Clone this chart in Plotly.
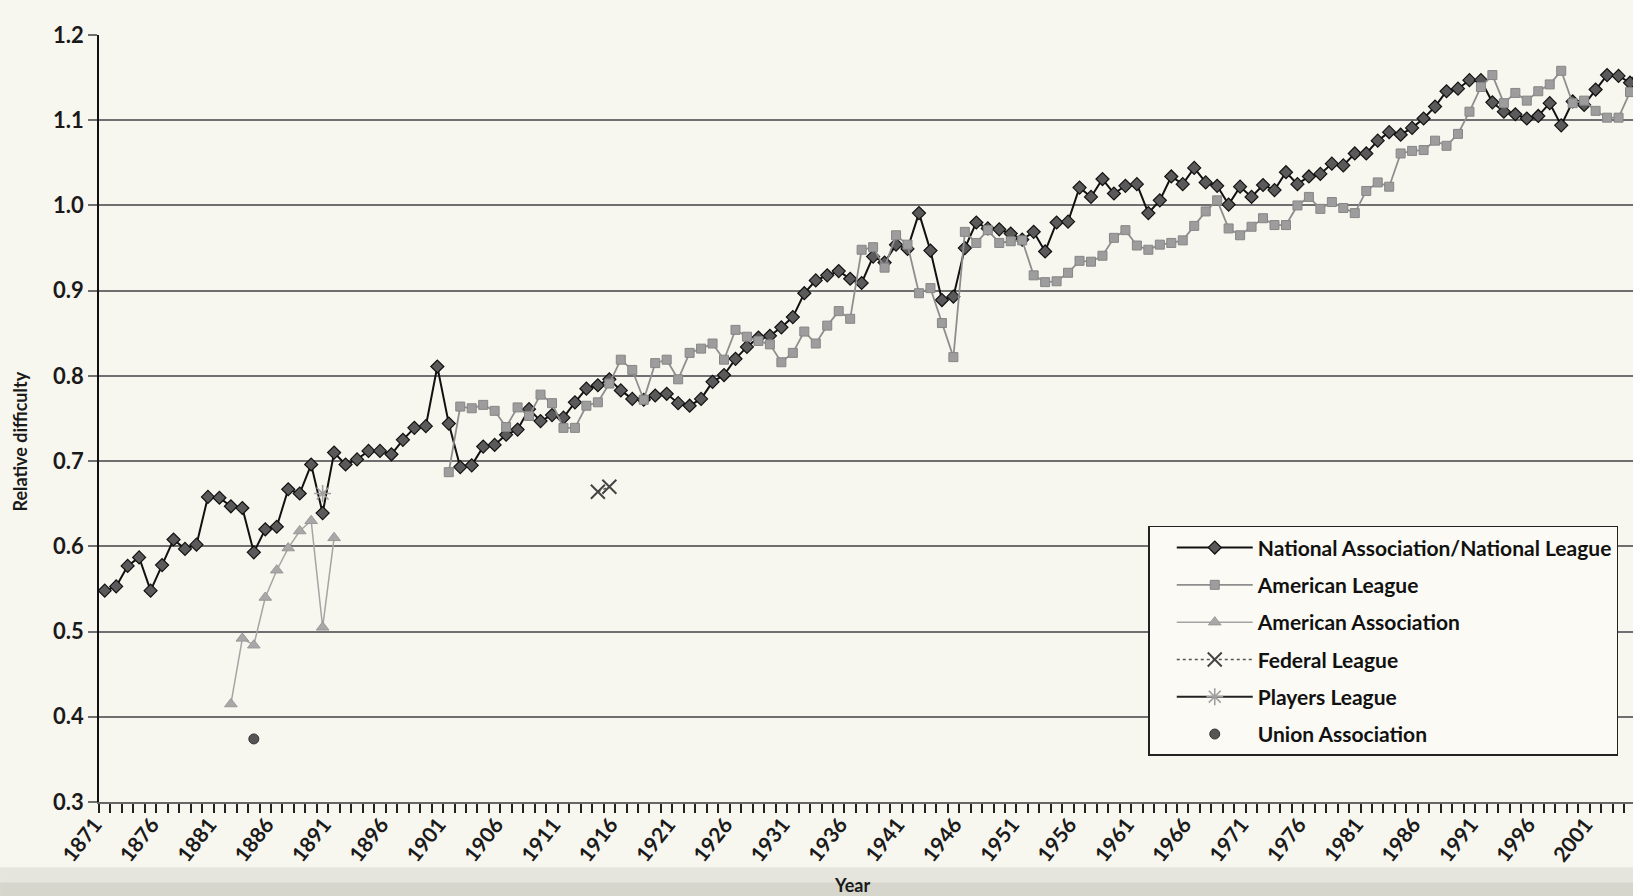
import plotly.graph_objects as go

# ---------------- data ----------------
nl_years = list(range(1871, 2006))
nl_vals = [
    0.548, 0.553, 0.577, 0.587, 0.548, 0.578, 0.608, 0.597, 0.602, 0.658,   # 1871-1880
    0.657, 0.647, 0.645, 0.593, 0.620, 0.623, 0.667, 0.662, 0.696, 0.639,   # 1881-1890
    0.710, 0.696, 0.702, 0.712, 0.712, 0.708, 0.725, 0.739, 0.741, 0.811,   # 1891-1900
    0.744, 0.693, 0.695, 0.717, 0.719, 0.731, 0.737, 0.761, 0.747, 0.754,   # 1901-1910
    0.751, 0.769, 0.785, 0.789, 0.796, 0.783, 0.773, 0.772, 0.777, 0.779,   # 1911-1920
    0.768, 0.765, 0.773, 0.793, 0.801, 0.820, 0.834, 0.845, 0.847, 0.857,   # 1921-1930
    0.869, 0.897, 0.912, 0.918, 0.923, 0.914, 0.909, 0.940, 0.933, 0.954,   # 1931-1940
    0.949, 0.991, 0.947, 0.889, 0.893, 0.950, 0.980, 0.973, 0.972, 0.967,   # 1941-1950
    0.960, 0.969, 0.946, 0.980, 0.981, 1.021, 1.010, 1.031, 1.014, 1.023,   # 1951-1960
    1.025, 0.991, 1.006, 1.034, 1.025, 1.044, 1.027, 1.023, 1.001, 1.022,   # 1961-1970
    1.010, 1.024, 1.018, 1.039, 1.025, 1.034, 1.037, 1.049, 1.047, 1.061,   # 1971-1980
    1.061, 1.076, 1.086, 1.083, 1.091, 1.102, 1.116, 1.134, 1.137, 1.147,   # 1981-1990
    1.147, 1.121, 1.110, 1.107, 1.102, 1.105, 1.120, 1.094, 1.122, 1.118,   # 1991-2000
    1.136, 1.153, 1.152, 1.144, 1.165,                                      # 2001-2005
]

al_years = list(range(1901, 2005))
al_vals = [
    0.687, 0.764, 0.762, 0.766, 0.759, 0.740, 0.763, 0.753, 0.778, 0.768,   # 1901-1910
    0.739, 0.739, 0.765, 0.769, 0.791, 0.819, 0.807, 0.772, 0.815, 0.819,   # 1911-1920
    0.796, 0.827, 0.832, 0.838, 0.819, 0.854, 0.846, 0.841, 0.837, 0.816,   # 1921-1930
    0.827, 0.852, 0.838, 0.859, 0.876, 0.867, 0.948, 0.951, 0.927, 0.965,   # 1931-1940
    0.954, 0.897, 0.903, 0.862, 0.822, 0.969, 0.956, 0.971, 0.956, 0.958,   # 1941-1950
    0.959, 0.918, 0.910, 0.911, 0.921, 0.935, 0.934, 0.941, 0.962, 0.971,   # 1951-1960
    0.953, 0.948, 0.954, 0.956, 0.959, 0.976, 0.993, 1.006, 0.973, 0.965,   # 1961-1970
    0.975, 0.985, 0.977, 0.977, 1.000, 1.010, 0.996, 1.004, 0.997, 0.991,   # 1971-1980
    1.017, 1.027, 1.022, 1.061, 1.064, 1.065, 1.076, 1.070, 1.084, 1.110,   # 1981-1990
    1.139, 1.153, 1.120, 1.132, 1.123, 1.134, 1.142, 1.158, 1.120, 1.123,   # 1991-2000
    1.111, 1.103, 1.103, 1.133,                                             # 2001-2004
]

aa_years = list(range(1882, 1892))
aa_vals = [0.415, 0.492, 0.484, 0.540, 0.572, 0.598, 0.618, 0.630, 0.505, 0.610]

fl_years = [1914, 1915]
fl_vals = [0.664, 0.670]

pl_years = [1890]
pl_vals = [0.662]

ua_years = [1884]
ua_vals = [0.374]

x_tick_years = list(range(1871, 2002, 5))
x_tick_labels = [str(y) for y in x_tick_years]
y_ticks = [0.3, 0.4, 0.5, 0.6, 0.7, 0.8, 0.9, 1.0, 1.1, 1.2]
y_tick_labels = ["0.3", "0.4", "0.5", "0.6", "0.7", "0.8", "0.9", "1.0", "1.1", "1.2"]

series_names = [
    "National Association/National League",
    "American League",
    "American Association",
    "Federal League",
    "Players League",
    "Union Association",
]

# ---------------- figure ----------------
FONT = "Lato, Roboto, sans-serif"
BG = "#f8f7ef"

fig = go.Figure()

fig.add_trace(go.Scatter(
    x=nl_years, y=nl_vals, name=series_names[0], legendgroup="g1",
    mode="lines+markers",
    line=dict(color="#111111", width=2),
    marker=dict(symbol="diamond", size=10, color="#5a5a5a",
                line=dict(color="#111111", width=1.2)),
))
fig.add_trace(go.Scatter(
    x=al_years, y=al_vals, name=series_names[1], legendgroup="g2",
    mode="lines+markers",
    line=dict(color="#8e8e8e", width=1.8),
    marker=dict(symbol="square", size=9, color="#9d9d9d",
                line=dict(color="#868686", width=1)),
))
fig.add_trace(go.Scatter(
    x=aa_years, y=aa_vals, name=series_names[2], legendgroup="g3",
    mode="lines+markers",
    line=dict(color="#a4a4a4", width=1.5),
    marker=dict(symbol="triangle-up", size=11, color="#a8a8a8",
                line=dict(color="#999999", width=1)),
))
fig.add_trace(go.Scatter(
    x=fl_years, y=fl_vals, name=series_names[3], legendgroup="g4",
    mode="lines+markers",
    line=dict(color="#555555", width=1.5, dash="dot"),
    marker=dict(symbol="x-thin", size=14, color="#444444",
                line=dict(color="#444444", width=2)),
))
fig.add_trace(go.Scatter(
    x=pl_years, y=pl_vals, name=series_names[4], legendgroup="g5",
    mode="lines+markers",
    line=dict(color="#222222", width=2),
    marker=dict(symbol="asterisk", size=14, color="#a0a0a0",
                line=dict(color="#a0a0a0", width=1.6)),
))
fig.add_trace(go.Scatter(
    x=ua_years, y=ua_vals, name=series_names[5], legendgroup="g6",
    mode="markers",
    marker=dict(symbol="circle", size=10, color="#555555",
                line=dict(color="#333333", width=1)),
))

minor_ticks = [y - 0.5 for y in range(1871, 2006)]

fig.update_layout(
    width=1633, height=896,
    margin=dict(l=99, r=0, t=35, b=94),
    paper_bgcolor=BG, plot_bgcolor=BG,
    font=dict(family=FONT, size=20, color="#1a1a1a"),
    showlegend=True,
    legend=dict(
        x=0.684, y=0.36, xanchor="left", yanchor="top",
        bgcolor="#fbfaf4", bordercolor="#222222", borderwidth=1.5,
        font=dict(family=FONT, size=21, color="#111111", weight="bold"),
        itemwidth=76, indentation=22, tracegroupgap=7, traceorder="grouped",
    ),
    xaxis=dict(
        range=[1870.5, 2004.26],
        showgrid=False, zeroline=False,
        showline=True, linecolor="#666666", linewidth=2,
        tickmode="array", tickvals=x_tick_years, ticktext=x_tick_labels,
        ticks="", tickangle=-52, ticklabelshift=-10,
        tickfont=dict(family=FONT, size=21, color="#1a1a1a", weight="bold"),
        minor=dict(tickmode="array", tickvals=minor_ticks, ticks="outside",
                   ticklen=9, tickwidth=1.5, tickcolor="#222222", showgrid=False),
    ),
    yaxis=dict(
        range=[0.3, 1.2],
        tickmode="array", tickvals=y_ticks, ticktext=y_tick_labels,
        showgrid=True, gridcolor="#6f6f6f", gridwidth=2,
        zeroline=False,
        showline=True, linecolor="#111111", linewidth=1.5,
        ticks="outside", ticklen=9, tickcolor="#6f6f6f", tickwidth=2,
        tickfont=dict(family=FONT, size=22, color="#1a1a1a", weight="bold"),
    ),
    annotations=[
        dict(text="Relative difficulty", xref="paper", yref="paper",
             x=-0.0521, y=0.47, xanchor="center", yanchor="middle",
             textangle=-90, showarrow=False,
             font=dict(family=FONT, size=18, color="#1a1a1a", weight="bold")),
        dict(text="Year", xref="paper", yref="paper",
             x=0.491, y=-0.108, xanchor="center", yanchor="middle",
             showarrow=False,
             font=dict(family=FONT, size=18, color="#1a1a1a", weight="bold")),
    ],
    shapes=[
        dict(type="rect", xref="paper", yref="paper", x0=-0.0645, x1=1.0,
             y0=-0.1226, y1=-0.085, fillcolor="rgba(190,188,180,0.30)",
             line=dict(width=0), layer="below"),
        dict(type="rect", xref="paper", yref="paper", x0=-0.0645, x1=1.0,
             y0=-0.1226, y1=-0.105, fillcolor="rgba(180,178,170,0.30)",
             line=dict(width=0), layer="below"),
    ],
)

fig.write_html("out.html",
               config={"displayModeBar": False},
               post_script="document.body.style.margin='0';document.body.style.overflow='hidden';")
